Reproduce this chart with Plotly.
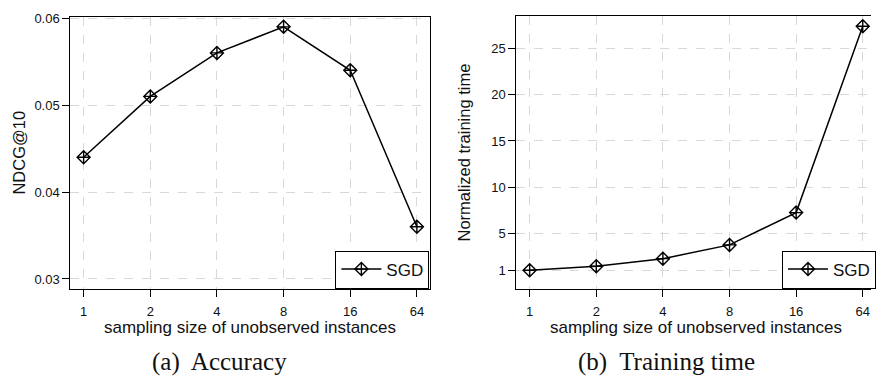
import plotly.graph_objects as go

# ---- data ----
sampling_sizes = ["1", "2", "4", "8", "16", "64"]
ndcg_sgd = [0.044, 0.051, 0.056, 0.059, 0.054, 0.036]
train_time_sgd = [1.0, 1.43, 2.25, 3.74, 7.24, 27.42]
series_name = "SGD"
ndcg_ticks = [0.03, 0.04, 0.05, 0.06]
ndcg_ticklabels = ["0.03", "0.04", "0.05", "0.06"]
time_ticks = [1, 5, 10, 15, 20, 25]

W, H = 876, 388
xpos = list(range(1, len(sampling_sizes) + 1))

FONT = "Liberation Sans"
SERIF = "Liberation Serif"

fig = go.Figure()

marker = dict(symbol="diamond-cross-open", size=10, color="black",
              line=dict(color="black", width=1.4))

fig.add_trace(go.Scatter(x=xpos, y=ndcg_sgd, mode="lines+markers", name=series_name,
                         line=dict(color="black", width=1.5), marker=marker,
                         xaxis="x", yaxis="y", legend="legend"))
fig.add_trace(go.Scatter(x=xpos, y=train_time_sgd, mode="lines+markers", name=series_name,
                         line=dict(color="black", width=1.5), marker=marker,
                         xaxis="x2", yaxis="y2", legend="legend2"))

def px_x(v):
    return v / W

def px_y(v):
    return 1 - v / H

top, bottom = 11, 287
common_axis = dict(showline=True, linecolor="black", linewidth=1,
                   ticks="outside", ticklen=7, tickwidth=1, tickcolor="black",
                   showgrid=True, gridcolor="#d8d8d8", griddash="dash", gridwidth=1,
                   zeroline=False, tickfont=dict(family=FONT, size=13, color="#111"))

legend_common = dict(xanchor="left", yanchor="bottom", itemwidth=40,
                     bgcolor="white", bordercolor="black", borderwidth=1,
                     font=dict(family=FONT, size=17, color="#111"))

fig.update_layout(
    width=W, height=H, margin=dict(l=0, r=0, t=0, b=0),
    paper_bgcolor="white", plot_bgcolor="white",
    font=dict(family=FONT, color="#111"),
    xaxis=dict(domain=[px_x(70.7), px_x(432.7)], range=[0.8, 6.2], anchor="y",
               tickvals=xpos, ticktext=sampling_sizes, mirror=True,
               ticklabelstandoff=4, **common_axis),
    yaxis=dict(domain=[px_y(bottom), px_y(top)], range=[0.0289, 0.06015], anchor="x",
               tickvals=ndcg_ticks, ticktext=ndcg_ticklabels, mirror=True, **common_axis),
    xaxis2=dict(domain=[px_x(519.3), 1.0], range=[0.8, 0.8 + (876 - 519.3) / 67.0], anchor="y2",
                tickvals=xpos, ticktext=sampling_sizes, mirror=True,
                ticklabelstandoff=4, **common_axis),
    yaxis2=dict(domain=[px_y(bottom), px_y(10)], range=[-0.99, 28.55], anchor="x2",
                tickvals=time_ticks, mirror=False, **common_axis),
    legend=dict(x=px_x(337.3), y=px_y(287), **legend_common),
    legend2=dict(x=px_x(786.7), y=px_y(287), **legend_common),
    showlegend=True,
)

annotations = [
    dict(text="sampling size of unobserved instances", x=px_x(251.7), y=px_y(327),
         font=dict(family=FONT, size=17, color="#111")),
    dict(text="sampling size of unobserved instances", x=px_x(700.4), y=px_y(327),
         font=dict(family=FONT, size=17, color="#111")),
    dict(text="NDCG@10", x=px_x(19), y=px_y(149), textangle=-90,
         font=dict(family=FONT, size=16.5, color="#111")),
    dict(text="Normalized training time", x=px_x(467), y=px_y(148.5), textangle=-90,
         font=dict(family=FONT, size=16.5, color="#111")),
    dict(text="(a)  Accuracy", x=px_x(221), y=px_y(362),
         font=dict(family=SERIF, size=25, color="#111")),
    dict(text="(b)  Training time", x=px_x(670), y=px_y(362),
         font=dict(family=SERIF, size=25, color="#111")),
]
for a in annotations:
    a.update(xref="paper", yref="paper", showarrow=False, xanchor="center", yanchor="middle")
fig.update_layout(annotations=annotations)

fig.write_html("out.html")
